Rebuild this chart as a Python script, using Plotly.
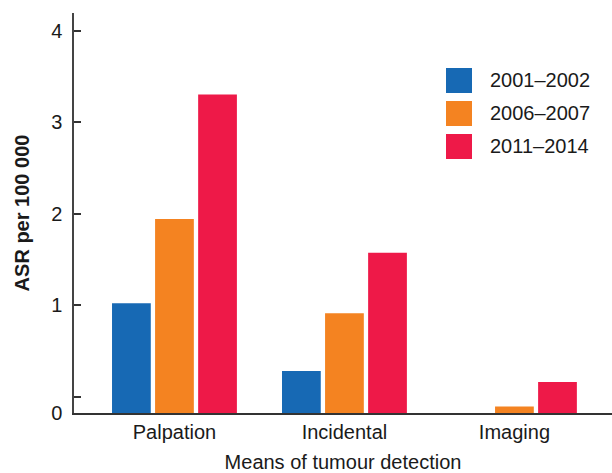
import plotly.graph_objects as go

# Means of tumour detection and age-standardised rates per period
categories = ["Palpation", "Incidental", "Imaging"]
periods = ["2001–2002", "2006–2007", "2011–2014"]
asr_2001_2002 = [1.20, 0.46, 0.0]
asr_2006_2007 = [2.12, 1.09, 0.07]
asr_2011_2014 = [3.48, 1.75, 0.34]
colors = ["#1769B4", "#F48321", "#EE1948"]

# y-axis tick labels sit above a short offset from the baseline
tick_offset = 0.175
tick_labels = ["0", "", "1", "2", "3", "4"]
tick_positions = [0, tick_offset] + [k + tick_offset for k in range(1, 5)]

series = [asr_2001_2002, asr_2006_2007, asr_2011_2014]

fig = go.Figure()
for name, vals, col in zip(periods, series, colors):
    fig.add_trace(go.Bar(
        x=categories, y=vals, name=name,
        marker=dict(color=col, line=dict(width=0)),
        showlegend=False,
    ))

font_family = "Liberation Sans, Arial, Helvetica, sans-serif"

# Legend drawn as large colour swatches with labels
for i, (name, col) in enumerate(zip(periods, colors)):
    y_top = 0.8625 - i * 0.0825
    fig.add_shape(type="rect", xref="paper", yref="paper",
                  x0=0.6914, x1=0.7398, y0=y_top - 0.0625, y1=y_top,
                  fillcolor=col, line=dict(width=0))
    fig.add_annotation(xref="paper", yref="paper", x=0.7695, y=y_top - 0.031,
                       text=name, showarrow=False, xanchor="left", yanchor="middle",
                       font=dict(size=20, color="#1a1a1a", family=font_family))

fig.update_layout(
    width=612, height=473,
    margin=dict(l=74, r=0, t=13, b=60),
    paper_bgcolor="white", plot_bgcolor="white",
    barmode="group", bargap=0.24, bargroupgap=0.1,
    font=dict(family=font_family, size=20, color="#1a1a1a"),
    xaxis=dict(
        range=[-0.591, 2.574],
        showline=True, linecolor="#333333", linewidth=1.5,
        ticks="", showgrid=False, zeroline=False,
        tickfont=dict(size=20),
        title=dict(text="Means of tumour detection", font=dict(size=20), standoff=14),
    ),
    yaxis=dict(
        range=[0, 4.37],
        showline=True, linecolor="#444444", linewidth=1.5,
        ticks="inside", ticklen=7, tickcolor="#333333", tickwidth=1.5,
        tickvals=tick_positions, ticktext=tick_labels,
        ticklabelstandoff=6,
        showgrid=False, zeroline=False,
        tickfont=dict(size=20),
        title=dict(text="<b>ASR per 100 000</b>", font=dict(size=20), standoff=16),
    ),
)

fig.write_html("out.html")
